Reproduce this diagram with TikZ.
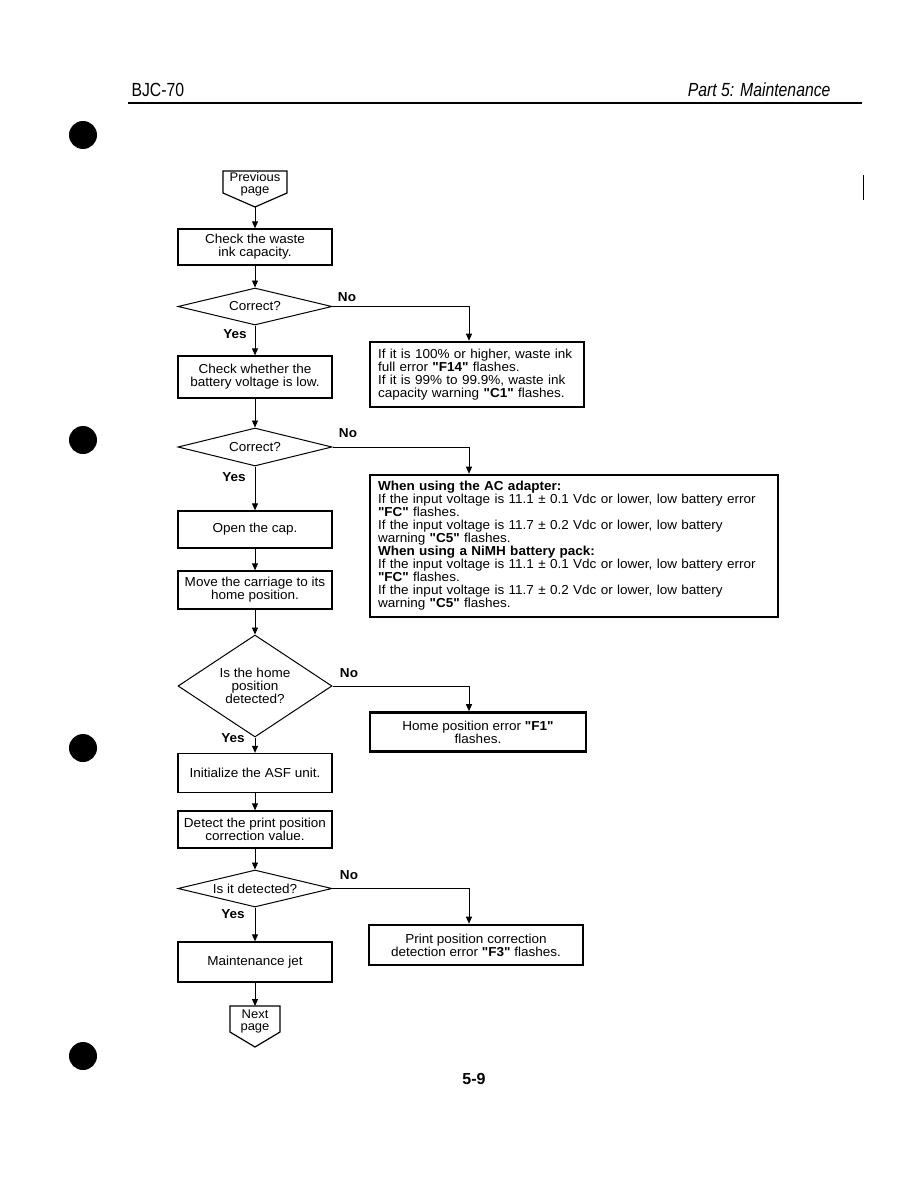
\documentclass[tikz,border=0pt]{standalone}
\usepackage{fontspec}
\setmainfont{Liberation Sans}
\newfontfamily\bodyf[FakeStretch=1.04]{Liberation Sans}
\newfontfamily\narrowf[FakeStretch=0.83]{Liberation Sans}
\usetikzlibrary{shapes.geometric,arrows.meta}
\tikzset{
  bodytext/.style={font=\bodyf\fontsize{13}{12.8}\selectfont},
  proc/.style={bodytext, draw, line width=1.3pt, minimum width=154pt, inner sep=1pt, align=center},
  res/.style={bodytext, draw, line width=2.6pt, inner ysep=1pt},
  dec/.style={bodytext, draw, diamond, line width=1pt, minimum width=154pt, aspect=4, inner sep=0pt, align=center},
  conn/.style={line width=0.9pt, -{Triangle[length=7pt,width=6pt]}},
  lbl/.style={font=\bodyf\bfseries\fontsize{13}{13}\selectfont},
  offpage/.style={line width=1.2pt},
  hole/.style={fill=black}
}
\begin{document}
\begin{tikzpicture}[x=1pt,y=-1pt]
\useasboundingbox (0,0) rectangle (918,1188);
\fill[white] (0,0) rectangle (918,1188);

% header and footer
\node[anchor=base west, font=\narrowf\fontsize{19}{19}\selectfont] (hdrl) at (128,97) {BJC-70};
\node[anchor=base east, font=\narrowf\itshape\fontsize{19}{19}\selectfont] (hdrr) at (834,97) {Part 5: Maintenance};
\draw[line width=1.5pt] (128,103) -- (862,103);
\draw[line width=0.8pt] (863,175) -- (863,200);
\node[anchor=base, font=\bfseries\fontsize{16}{16}\selectfont] (pg) at (474,1084) {5-9};

% punch holes
\fill[hole] (83,135) circle (14pt);
\fill[hole] (83,440) circle (14pt);
\fill[hole] (83,748) circle (14pt);
\fill[hole] (83,1056) circle (14pt);

% off-page connectors
\draw[offpage] (223,171) -- (287,171) -- (287,193) -- (255,207) -- (223,193) -- cycle;
\node[align=center, font=\bodyf\fontsize{12.5}{12}\selectfont] (prev) at (255,184) {Previous\\page};
\coordinate (prevtip) at (255,207);
\draw[offpage] (230,1006) -- (280,1006) -- (280,1032) -- (255,1047) -- (230,1032) -- cycle;
\node[align=center, font=\bodyf\fontsize{12.5}{12}\selectfont] (next) at (255,1021) {Next\\page};
\coordinate (nexttop) at (255,1006);

% main column
\node[proc, minimum height=36pt] (b1) at (255,247) {Check the waste\\ink capacity.};
\node[dec, minimum height=37pt] (d1) at (255,306.5) {Correct?};
\node[proc, minimum height=42pt] (b2) at (255,377) {Check whether the\\battery voltage is low.};
\node[dec, minimum height=38pt] (d2) at (255,447) {Correct?};
\node[proc, minimum height=37pt] (b3) at (255,529.5) {Open the cap.};
\node[proc, minimum height=38pt] (b4) at (255,590) {Move the carriage to its\\home position.};
\node[dec, aspect=1.5, minimum height=102pt] (d3) at (255,686) {Is the home\\position\\detected?};
\node[proc, minimum height=39pt] (b5) at (255,773) {Initialize the ASF unit.};
\node[proc, minimum height=37pt] (b6) at (255,829.5) {Detect the print position\\correction value.};
\node[dec, minimum height=37pt] (d4) at (255,888.5) {Is it detected?};
\node[proc, minimum height=40pt] (b7) at (255,962) {Maintenance jet};

% result boxes
\node[res, text width=198pt, inner xsep=8pt, minimum height=65pt, align=left] (r1) at (477,374.5)
 {If it is 100\% or higher, waste ink\\full error \textbf{"F14"} flashes.\\If it is 99\% to 99.9\%, waste ink\\capacity warning \textbf{"C1"} flashes.};
\node[res, text width=392pt, inner xsep=8pt, minimum height=142pt, align=left, font=\bodyf\fontsize{13}{13}\selectfont] (r2) at (574,546)
 {\textbf{When using the AC adapter:}\\
  If the input voltage is 11.1 ± 0.1 Vdc or lower, low battery error\\
  \textbf{"FC"} flashes.\\
  If the input voltage is 11.7 ± 0.2 Vdc or lower, low battery\\
  warning \textbf{"C5"} flashes.\\
  \textbf{When using a NiMH battery pack:}\\
  If the input voltage is 11.1 ± 0.1 Vdc or lower, low battery error\\
  \textbf{"FC"} flashes.\\
  If the input voltage is 11.7 ± 0.2 Vdc or lower, low battery\\
  warning \textbf{"C5"} flashes.};
\node[res, minimum width=216pt, minimum height=39pt, align=center] (r3) at (478,732)
 {Home position error \textbf{"F1"}\\flashes.};
\node[res, minimum width=214pt, minimum height=40pt, align=center] (r4) at (476,945)
 {Print position correction\\detection error \textbf{"F3"} flashes.};

\coordinate (nx) at (469,0);

% connectors
\draw[conn] (prevtip) -- (b1.north);
\draw[conn] (b1.south) -- (d1.north);
\draw[conn] (d1.south) -- (b2.north);
\draw[conn] (d1.east) -| (nx |- r1.north);
\draw[conn] (b2.south) -- (d2.north);
\draw[conn] (d2.east) -| (nx |- r2.north);
\draw[conn] (d2.south) -- (b3.north);
\draw[conn] (b3.south) -- (b4.north);
\draw[conn] (b4.south) -- (d3.north);
\draw[conn] (d3.east) -| (nx |- r3.north);
\draw[conn] (d3.south) -- (b5.north);
\draw[conn] (b5.south) -- (b6.north);
\draw[conn] (b6.south) -- (d4.north);
\draw[conn] (d4.east) -| (nx |- r4.north);
\draw[conn] (d4.south) -- (b7.north);
\draw[conn] (b7.south) -- (nexttop);

% labels
\node[lbl] (no1) at (347,297) {No};
\node[lbl] (no2) at (348,433) {No};
\node[lbl] (no3) at (349,673) {No};
\node[lbl] (no4) at (349,875) {No};
\node[lbl] (yes1) at (235,334) {Yes};
\node[lbl] (yes2) at (234,477) {Yes};
\node[lbl] (yes3) at (233,738) {Yes};
\node[lbl] (yes4) at (233,914) {Yes};
\end{tikzpicture}
\end{document}
